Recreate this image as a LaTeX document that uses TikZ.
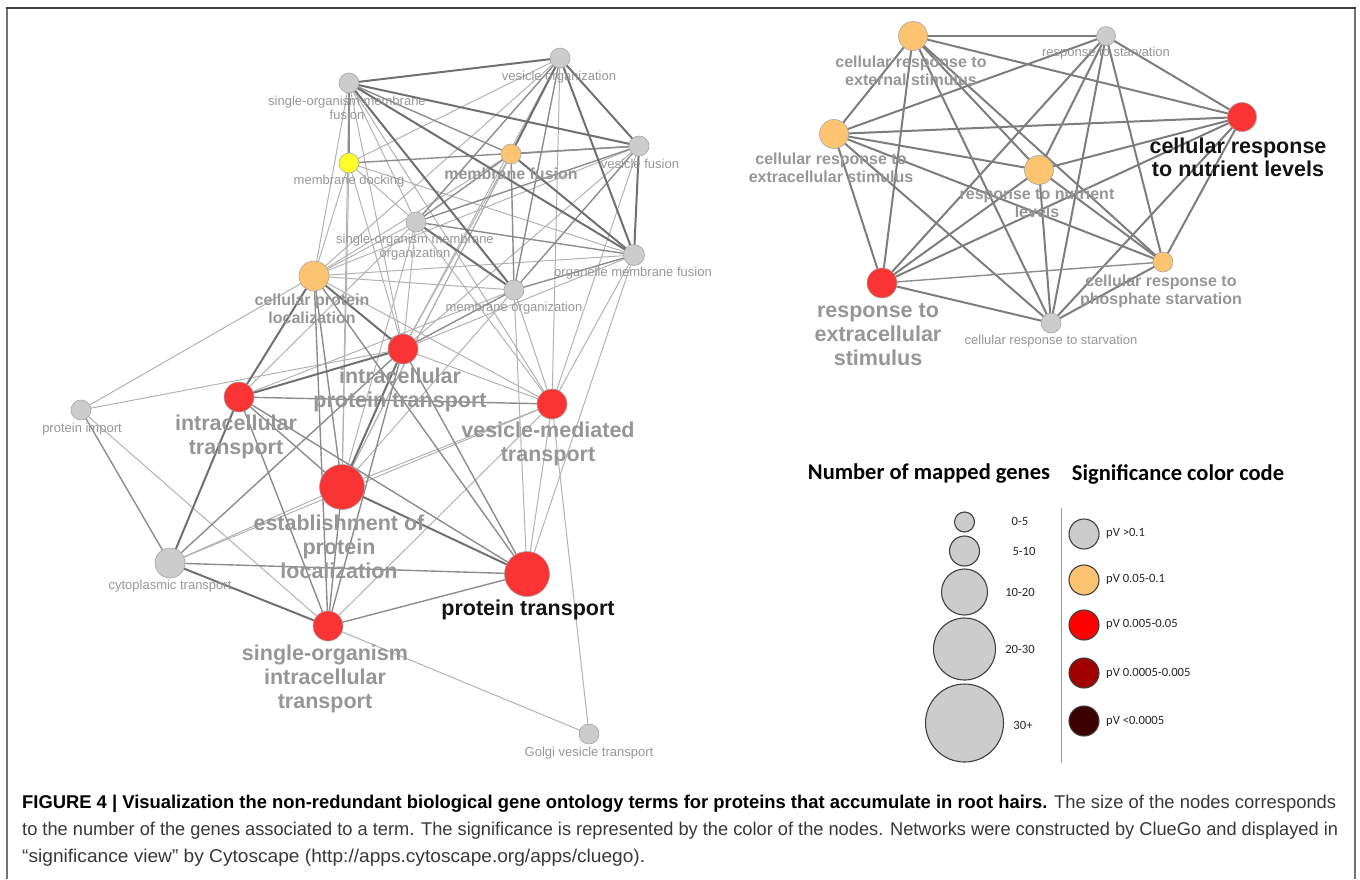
\documentclass[tikz,border=0pt]{standalone}
\usepackage{fontspec}
\setmainfont{Liberation Sans}
\newfontfamily\legfont{Carlito}
\usepackage{graphicx}
\definecolor{ngray}{RGB}{204,204,204}
\definecolor{norange}{RGB}{252,196,112}
\definecolor{nyellow}{RGB}{255,255,40}
\definecolor{nred}{RGB}{250,52,52}
\definecolor{lred}{RGB}{255,0,0}
\definecolor{ldred}{RGB}{160,0,0}
\definecolor{lvdred}{RGB}{60,0,0}
\definecolor{labgray}{RGB}{150,150,150}
\definecolor{edgeT}{RGB}{112,112,112}
\definecolor{edgeM}{RGB}{140,140,140}
\definecolor{edgeL}{RGB}{178,178,178}
\definecolor{edgeR}{RGB}{125,125,125}
\tikzset{
  nd/.style={circle, inner sep=0pt, line width=0.6pt},
  gn/.style={nd, fill=ngray, draw=black!35},
  on/.style={nd, fill=norange, draw=black!35},
  yn/.style={nd, fill=nyellow, draw=black!35},
  rn/.style={nd, fill=nred, draw=black!35},
  eT/.style={draw=edgeT, line width=2pt},
  eM/.style={draw=edgeM, line width=1.4pt},
  eL/.style={draw=edgeL, line width=1pt},
  eR/.style={draw=edgeR, line width=2pt},
  smallLab/.style={text=labgray, font=\fontsize{13}{14}\selectfont, align=center, inner sep=0pt},
  medLab/.style={text=labgray, font=\bfseries\fontsize{16}{18}\selectfont, align=center, inner sep=0pt},
  bigLab/.style={text=labgray, font=\bfseries\fontsize{21.5}{24}\selectfont, align=center, inner sep=0pt},
  blackLab/.style={bigLab, text=black!92},
  legc/.style={circle, inner sep=0pt, draw=black!75, line width=1.1pt},
  legLab/.style={font=\legfont\fontsize{12.6}{14}\selectfont, inner sep=0pt, text=black!85},
  legHead/.style={font=\legfont\bfseries\fontsize{22.5}{25}\selectfont, inner sep=0pt, text=black},
  capLine/.style={anchor=base west, inner sep=0pt}
}
\begin{document}
\begin{tikzpicture}[x=1pt,y=-1pt]
\useasboundingbox (0,0) rectangle (1360,879);
% frame
\draw[draw=black!55, line width=2pt] (7,879) -- (7,8);
\draw[draw=black!55, line width=2pt] (1355,8) -- (1355,879);
\draw[draw=black!75, line width=1.6pt] (6,8) -- (1356,8);

% ---------------- left network coordinates
\coordinate (somf) at (349,83);
\coordinate (vo) at (560,58);
\coordinate (md) at (349,163);
\coordinate (mf) at (511,154);
\coordinate (vf) at (639,146);
\coordinate (somo) at (416,222);
\coordinate (omf) at (634,255);
\coordinate (mo) at (514,290);
\coordinate (cpl) at (314,276);
\coordinate (ipt) at (403,349);
\coordinate (it) at (239,397);
\coordinate (vmt) at (552,404);
\coordinate (pi) at (81,410);
\coordinate (epl) at (342,487);
\coordinate (ct) at (170,563);
\coordinate (pt) at (527,574);
\coordinate (soit) at (328,626);
\coordinate (gvt) at (589,734);

% light edges
\foreach \a/\b in {somf/somo, somf/cpl, somf/ipt, somf/epl, somf/vmt,
  vo/md, vo/cpl, vo/ipt, vo/vmt, vo/epl,
  vf/cpl, vf/ipt, vf/vmt,
  mf/cpl, mf/ipt, mf/epl,
  md/somo, md/omf, md/cpl, md/ipt, md/epl,
  somo/cpl, somo/ipt, somo/it, somo/epl, somo/vmt,
  omf/cpl, omf/ipt, omf/vmt, omf/pt,
  mo/cpl, mo/vmt, mo/pt, mo/epl, mo/it,
  cpl/pi, cpl/vmt,
  ipt/vmt, ipt/pi,
  vmt/pt, vmt/epl, vmt/soit, vmt/gvt, vmt/ct,
  epl/ct, soit/gvt, soit/pi}
  \draw[eL] (\a) -- (\b);
% medium edges
\foreach \a/\b in {somf/mf, somf/md,
  vo/mo, vo/somo,
  vf/mf, vf/md, vf/somo, vf/mo,
  mf/mo, mf/somo,
  somo/omf, omf/mo, mo/ipt,
  cpl/epl, cpl/pt, cpl/soit,
  ipt/pt, ipt/soit, ipt/ct,
  it/vmt, it/epl, it/pt, it/soit,
  epl/soit, ct/pt, ct/pi, pt/soit}
  \draw[eM] (\a) -- (\b);
% thick edges
\foreach \a/\b in {somf/vo, somf/vf, somf/omf, somf/mo,
  vo/vf, vo/omf, vo/mf,
  vf/omf, mf/omf, somo/mo,
  cpl/ipt, cpl/it, ipt/it, ipt/epl, it/ct, epl/pt, ct/soit}
  \draw[eT] (\a) -- (\b);

% left nodes
\node[gn, minimum size=20pt] (n-somf) at (somf) {};
\node[gn, minimum size=20pt] (n-vo) at (vo) {};
\node[yn, minimum size=20pt] (n-md) at (md) {};
\node[on, minimum size=20pt] (n-mf) at (mf) {};
\node[gn, minimum size=20pt] (n-vf) at (vf) {};
\node[gn, minimum size=20pt] (n-somo) at (somo) {};
\node[gn, minimum size=21pt] (n-omf) at (omf) {};
\node[gn, minimum size=20pt] (n-mo) at (mo) {};
\node[on, minimum size=30pt] (n-cpl) at (cpl) {};
\node[rn, minimum size=30pt] (n-ipt) at (ipt) {};
\node[rn, minimum size=30pt] (n-it) at (it) {};
\node[rn, minimum size=30pt] (n-vmt) at (vmt) {};
\node[gn, minimum size=20pt] (n-pi) at (pi) {};
\node[rn, minimum size=45pt] (n-epl) at (epl) {};
\node[gn, minimum size=30pt] (n-ct) at (ct) {};
\node[rn, minimum size=45pt] (n-pt) at (pt) {};
\node[rn, minimum size=30pt] (n-soit) at (soit) {};
\node[gn, minimum size=20pt] (n-gvt) at (gvt) {};

% left labels
\node[smallLab] (l-vo) at (559,77) {vesicle organization};
\node[smallLab] (l-somf) at (347,108) {single-organism membrane\\fusion};
\node[smallLab] (l-md) at (349,181) {membrane docking};
\node[medLab] (l-mf) at (511,174) {membrane fusion};
\node[smallLab] (l-vf) at (640,164) {vesicle fusion};
\node[smallLab] (l-somo) at (415,247) {single-organism membrane\\organization};
\node[smallLab] (l-omf) at (633,273) {organelle membrane fusion};
\node[smallLab] (l-mo) at (514,308) {membrane organization};
\node[medLab] (l-cpl) at (312,309) {cellular protein\\localization};
\node[bigLab] (l-ipt) at (400,390) {intracellular\\protein transport};
\node[bigLab] (l-it) at (236,437) {intracellular\\transport};
\node[bigLab] (l-vmt) at (548,444) {vesicle-mediated\\transport};
\node[smallLab] (l-pi) at (82,429) {protein import};
\node[bigLab] (l-epl) at (339,547) {establishment of\\protein\\localization};
\node[smallLab] (l-ct) at (170,586) {cytoplasmic transport};
\node[blackLab] (l-pt) at (528,610) {protein transport};
\node[bigLab] (l-soit) at (325,679) {single-organism\\intracellular\\transport};
\node[smallLab] (l-gvt) at (589,753) {Golgi vesicle transport};

% ---------------- right network
\coordinate (ra) at (913,36);
\coordinate (rb) at (1106,36);
\coordinate (rc) at (834,134);
\coordinate (rd) at (1242,117);
\coordinate (re) at (1039,170);
\coordinate (rf) at (1163,262);
\coordinate (rg) at (882,283);
\coordinate (rh) at (1051,323);
\foreach \a/\b in {ra/rb, ra/rc, ra/rd, ra/re, ra/rf, ra/rg, ra/rh,
  rb/rc, rb/rd, rb/re, rb/rf, rb/rg, rb/rh,
  rc/rd, rc/re, rc/rf, rc/rg, rc/rh,
  rd/re, rd/rf, rd/rg, rd/rh,
  re/rf, re/rg, re/rh,
  rf/rh, rg/rh}
  \draw[eR] (\a) -- (\b);
\draw[eM] (rg) -- (rf);
\node[on, minimum size=29pt] (n-ra) at (ra) {};
\node[gn, minimum size=19pt] (n-rb) at (rb) {};
\node[on, minimum size=29pt] (n-rc) at (rc) {};
\node[rn, minimum size=29pt] (n-rd) at (rd) {};
\node[on, minimum size=29pt] (n-re) at (re) {};
\node[on, minimum size=20pt] (n-rf) at (rf) {};
\node[rn, minimum size=30pt] (n-rg) at (rg) {};
\node[gn, minimum size=20pt] (n-rh) at (rh) {};
\node[medLab] (l-ra) at (911,71) {cellular response to\\external stimulus};
\node[smallLab] (l-rb) at (1106,53) {response to starvation};
\node[medLab] (l-rc) at (831,168) {cellular response to\\extracellular stimulus};
\node[blackLab, font=\bfseries\fontsize{21.5}{23}\selectfont] (l-rd) at (1238,157) {cellular response\\to nutrient levels};
\node[medLab] (l-re) at (1037,203) {response to nutrient\\levels};
\node[medLab] (l-rf) at (1161,291) {cellular response to\\phosphate starvation};
\node[bigLab] (l-rg) at (878,335) {response to\\extracellular\\stimulus};
\node[smallLab] (l-rh) at (1051,341) {cellular response to starvation};

% ---------------- legend
\node[legHead] (h1) at (929,474) {Number of mapped genes};
\node[legHead] (h2) at (1178,474) {Significance color code};
\node[legc, fill=ngray, minimum size=20pt] (s1) at (964.5,522) {};
\node[legc, fill=ngray, minimum size=30pt] (s2) at (964.5,551) {};
\node[legc, fill=ngray, minimum size=46pt] (s3) at (964.5,592) {};
\node[legc, fill=ngray, minimum size=62pt] (s4) at (964.5,649) {};
\node[legc, fill=ngray, minimum size=78pt] (s5) at (964.5,723) {};
\node[legLab] (t1) at (1020,521) {0-5};
\node[legLab] (t2) at (1024,551) {5-10};
\node[legLab] (t3) at (1020,592) {10-20};
\node[legLab] (t4) at (1020,649) {20-30};
\node[legLab] (t5) at (1023,725) {30+};
\coordinate (dtop) at (1061,508);
\coordinate (dbot) at (1061,763);
\draw[draw=black!40, line width=1pt] (dtop) -- (dbot);
\node[legc, fill=ngray, minimum size=30pt] (c1) at (1084,534) {};
\node[legc, fill=norange, minimum size=30pt] (c2) at (1084,580) {};
\node[legc, fill=lred, minimum size=30pt] (c3) at (1084,625) {};
\node[legc, fill=ldred, minimum size=30pt] (c4) at (1084,673) {};
\node[legc, fill=lvdred, minimum size=30pt] (c5) at (1084,721) {};
\node[legLab, anchor=west] (p1) at (1106,533) {pV >0.1};
\node[legLab, anchor=west] (p2) at (1106,579) {pV 0.05-0.1};
\node[legLab, anchor=west] (p3) at (1106,624) {pV 0.005-0.05};
\node[legLab, anchor=west] (p4) at (1106,673) {pV 0.0005-0.005};
\node[legLab, anchor=west] (p5) at (1106,721) {pV <0.0005};

% ---------------- caption
\node[capLine] (cap1) at (22,808) {\resizebox{1314pt}{\height}{\fontsize{18.5}{20}\selectfont\textbf{FIGURE 4 | Visualization the non-redundant biological gene ontology terms for proteins that accumulate in root hairs.} \textcolor{black!78}{The size of the nodes corresponds}}};
\node[capLine] (cap2) at (22,835) {\resizebox{1316pt}{\height}{\fontsize{18.5}{20}\selectfont\textcolor{black!78}{to the number of the genes associated to a term. The significance is represented by the color of the nodes. Networks were constructed by ClueGo and displayed in}}};
\node[capLine] (cap3) at (22,862) {\resizebox{623pt}{\height}{\fontsize{18.5}{20}\selectfont\textcolor{black!78}{“significance view” by Cytoscape (http://apps.cytoscape.org/apps/cluego).}}};
\end{tikzpicture}
\end{document}
